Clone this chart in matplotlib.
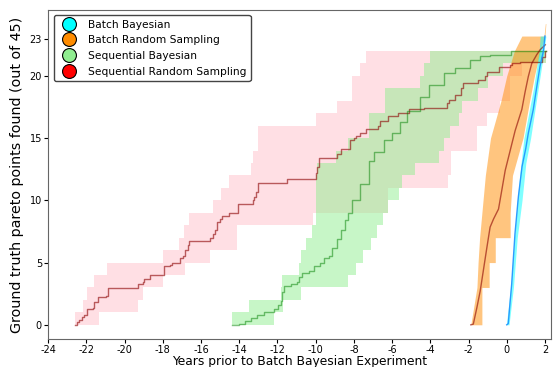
import matplotlib
matplotlib.use("Agg")
import matplotlib.pyplot as plt
import numpy as np
from matplotlib.lines import Line2D

plt.rcParams['axes.unicode_minus'] = False

# band levels (count of pareto points) for the sequential campaigns
levels = np.arange(0, 23)

# Sequential random sampling: mean curve
sr_t = [-22.6, -22.5, -22.4, -22.25, -22.12, -21.95, -21.65, -21.58, -21.37, -20.97,
        -20.88, -19.3, -19.05, -18.97, -18.66, -17.96, -17.6, -17.54, -17.1, -16.92,
        -16.85, -16.7, -16.62, -15.55, -15.35, -15.28, -15.14, -15.0, -14.88, -14.56,
        -14.09, -13.3, -13.23, -13.14, -13.0, -11.5, -9.98, -9.92, -9.85, -8.9,
        -8.66, -8.2, -7.97, -7.9, -7.66, -7.38, -6.75, -6.62, -6.2, -5.68,
        -5.13, -4.32, -3.12, -3.0, -2.7, -2.4, -2.3, -1.5, -1.13, -1.04,
        -0.43, 0.18, 0.3, 0.7, 1.85, 1.98, 2.05]
sr_y = [0, 0.2, 0.35, 0.6, 0.8, 1.25, 1.35, 1.8, 2.2, 2.3,
        2.95, 3.25, 3.4, 3.65, 4.0, 4.7, 4.8, 5.0, 5.35, 5.55,
        6.0, 6.4, 6.7, 7.0, 7.3, 7.6, 8.25, 8.5, 8.75, 9.0,
        9.7, 10.0, 10.3, 10.7, 11.4, 11.7, 12.2, 12.7, 13.4, 13.75,
        14.1, 14.85, 15.0, 15.15, 15.45, 15.75, 16.0, 16.4, 16.75, 17.05,
        17.35, 17.45, 17.8, 18.1, 18.45, 19.0, 19.4, 19.7, 20.0, 20.35,
        20.75, 20.85, 21.0, 21.1, 21.5, 22.0, 22.0]
# time at which the best / worst run reached each level
sr_upper_t = [-22.6, -22.6, -22.19, -21.96, -21.61, -20.93, -18.01, -17.14, -16.88, -16.62,
              -15.4, -14.95, -14.53, -13.4, -13.26, -13.02, -13.02, -10.0, -8.87, -8.09,
              -8.09, -7.69, -7.39]
sr_lower_t = [-21.35, -21.35, -19.32, -19.05, -18.0, -16.85, -15.55, -14.12, -14.12, -10.15,
              -6.2, -6.2, -3.05, -2.9, -2.9, -1.56, -1.56, -1.04, -0.34, 0.18,
              0.18, 0.8, 2.05]

# Sequential Bayesian: mean curve
sb_t = [-14.36, -14.0, -13.7, -13.4, -13.05, -12.7, -12.4, -12.18, -11.95, -11.83,
        -11.74, -11.66, -11.3, -11.0, -10.87, -10.7, -10.35, -10.09, -9.75, -9.57,
        -9.3, -9.13, -8.87, -8.66, -8.44, -8.3, -8.1, -7.66, -7.22, -6.96,
        -6.44, -6.0, -5.57, -5.22, -4.52, -4.09, -3.3, -2.69, -1.91, -1.39,
        -0.9, 0.2, 2.05]
sb_y = [0, 0.1, 0.3, 0.55, 0.8, 1.0, 1.05, 1.3, 1.6, 1.95,
        2.6, 3.15, 3.3, 3.45, 3.8, 4.2, 4.35, 4.75, 5.0, 5.4,
        5.55, 6.2, 6.9, 7.6, 8.4, 9.0, 10.0, 11.35, 13.2, 13.9,
        14.85, 15.4, 16.3, 17.2, 18.3, 19.27, 20.2, 20.6, 21.3, 21.6,
        21.7, 22.0, 22.0]
sb_upper_t = [-14.36, -14.36, -13.49, -11.83, -11.74, -10.87, -10.79, -10.53, -10.18, -10.0,
              -9.97, -9.97, -9.97, -9.95, -8.96, -8.3, -7.22, -7.22, -6.35, -6.35,
              -4.56, -4.35, -4.0]
sb_lower_t = [-12.18, -12.18, -11.69, -10.79, -8.3, -7.9, -7.5, -7.1, -6.8, -6.5,
              -6.2, -5.66, -5.48, -4.79, -3.57, -3.3, -2.96, -2.52, -2.34, -1.48,
              -0.96, -0.2, 2.05]

# Batch random sampling
br_t = [-1.88, -1.75, -1.56, -1.39, -1.25, -1.04, -0.87, -0.69, -0.43, -0.26,
        -0.08, 0.18, 0.44, 0.79, 0.96, 1.13, 1.31, 1.57, 1.75, 2.02]
br_y = [0, 0.05, 1.4, 2.7, 4.1, 6.2, 7.85, 8.5, 9.3, 10.8,
        12.4, 14.0, 15.6, 17.3, 18.7, 19.95, 21.0, 21.7, 22.1, 22.5]
br_band_y = [0, 3, 3, 5, 5, 7, 7, 9, 12, 15, 18, 20, 22, 23.2, 23.2, 24.2]
br_left = [-1.88, -1.56, -1.56, -1.5, -1.5, -1.42, -1.42, -1.3, -1.12, -0.85,
           -0.3, 0.0, 0.4, 0.79, 1.95, 2.02]
br_right = [-1.3, -1.3, -0.92, -0.92, -0.6, -0.6, 0.18, 0.18, 0.3, 0.85,
            1.2, 1.45, 1.75, 2.0, 2.0, 2.05]

# Batch Bayesian
bb_t = [0.0, 0.08, 0.26, 0.43, 0.61, 0.8, 1.0, 1.13, 1.39, 1.57, 1.74, 1.92, 2.0]
bb_y = [0, 0.1, 3.3, 7.3, 10.3, 12.7, 14.2, 15.4, 17.3, 19.1, 20.75, 22.0, 23.2]
bb_band_y = [0, 3, 7, 10, 13, 15, 17, 19, 21, 22, 23.2]
bb_left = [-0.02, 0.2, 0.4, 0.55, 0.75, 0.9, 1.15, 1.4, 1.6, 1.7, 1.75]
bb_right = [0.12, 0.35, 0.55, 0.8, 1.0, 1.25, 1.45, 1.65, 1.85, 1.95, 2.05]

fig = plt.figure(figsize=(5.54, 3.67), dpi=100)
ax = fig.add_axes([0.087, 0.076, 0.907, 0.897])

ax.fill_betweenx(levels, sr_upper_t, sr_lower_t, step='pre', color='pink', alpha=0.5, lw=0)
ax.fill_betweenx(levels, sb_upper_t, sb_lower_t, step='pre', color='lightgreen', alpha=0.5, lw=0)
ax.fill_betweenx(br_band_y, br_left, br_right, color='darkorange', alpha=0.5, lw=0)
ax.fill_betweenx(bb_band_y, bb_left, bb_right, color='cyan', alpha=0.5, lw=0)

ax.plot(sr_t, sr_y, drawstyle='steps-post', color='darkred', alpha=0.6, lw=1)
ax.plot(sb_t, sb_y, drawstyle='steps-post', color='green', alpha=0.5, lw=1)
ax.plot(br_t, br_y, color='darkred', alpha=0.6, lw=1)
ax.plot(bb_t, bb_y, color='dodgerblue', alpha=0.9, lw=1)

ax.set_xlim(-24, 2.3)
ax.set_ylim(-1.15, 25.3)
ax.set_xticks(np.arange(-24, 3, 2))
ax.set_yticks([0, 5, 10, 15, 20, 23])
ax.tick_params(labelsize=7, length=3, pad=1.5)
for s in ax.spines.values():
    s.set_color('#666666')
ax.set_xlabel("Years prior to Batch Bayesian Experiment", fontsize=8.8, labelpad=0)
ax.set_ylabel("Ground truth pareto points found (out of 45)", fontsize=10.3, labelpad=4)

names = ["Batch Bayesian", "Batch Random Sampling", "Sequential Bayesian", "Sequential Random Sampling"]
cols = ["cyan", "darkorange", "lightgreen", "red"]
handles = [Line2D([], [], ls='none', marker='o', markersize=10, markerfacecolor=c,
                  markeredgecolor='black', markeredgewidth=0.8) for c in cols]
leg = ax.legend(handles, names, loc='upper left', fontsize=7.7, handletextpad=0.8,
                labelspacing=0.53, borderpad=0.4, fancybox=True)
leg.get_frame().set_edgecolor('#444444')
leg.get_frame().set_alpha(1)

fig.savefig("out.png", dpi=100)
